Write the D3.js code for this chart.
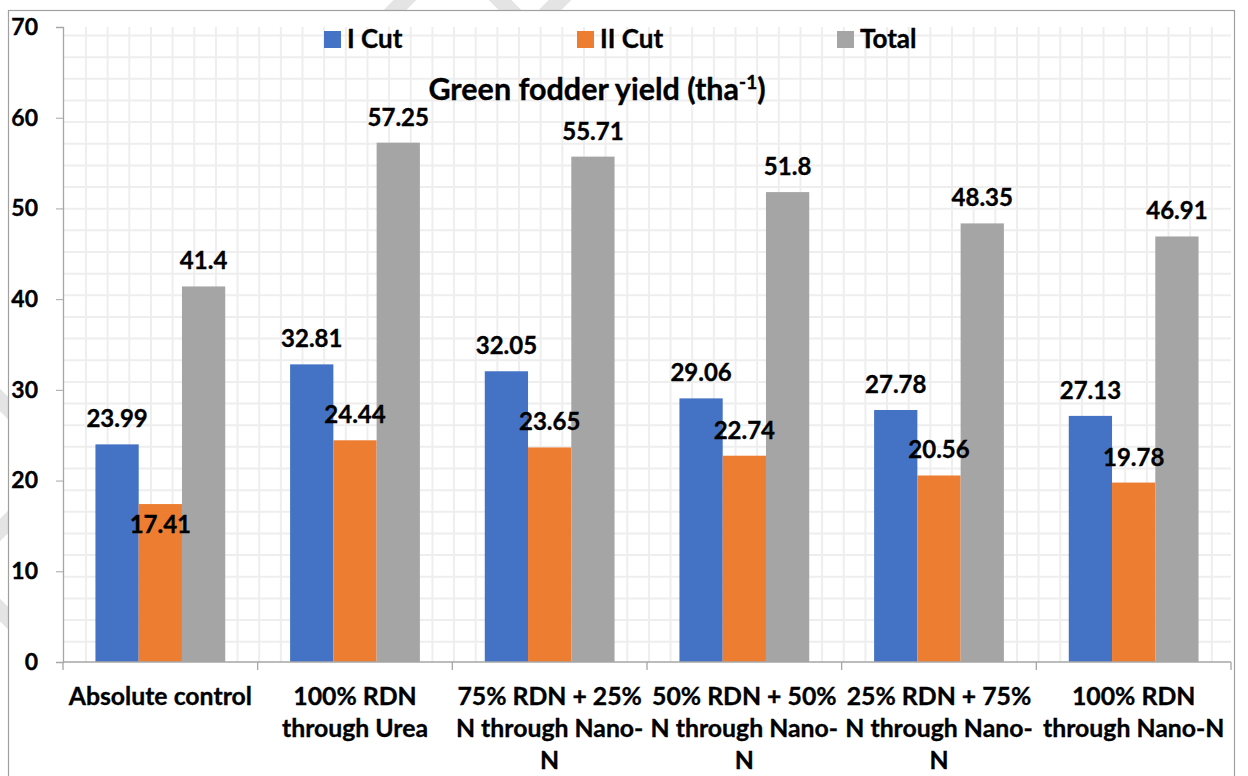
<!DOCTYPE html>
<html>
<head>
<meta charset="utf-8">
<script src="https://cdn.jsdelivr.net/npm/d3@7"></script>
<style>
  body { margin: 0; background: #fff; }
  text { font-family: Lato, "Open Sans", sans-serif; font-weight: 700; fill: #000; stroke: #000; stroke-width: 0.35px; }
</style>
</head>
<body>
<svg id="chart" width="1248" height="776"></svg>
<script>
// DATA
const categories = ["Absolute control", "100% RDN through Urea", "75% RDN + 25% N through Nano-N",
  "50% RDN + 50% N through Nano-N", "25% RDN + 75% N through Nano-N", "100% RDN through Nano-N"];
// wrapped the way the source chart wraps them
const categoryLines = [
  ["Absolute control"],
  ["100% RDN", "through Urea"],
  ["75% RDN + 25%", "N through Nano-", "N"],
  ["50% RDN + 50%", "N through Nano-", "N"],
  ["25% RDN + 75%", "N through Nano-", "N"],
  ["100% RDN", "through Nano-N"]
];
const seriesNames = ["I Cut", "II Cut", "Total"];
const cut1 = [23.99, 32.81, 32.05, 29.06, 27.78, 27.13];
const cut2 = [17.41, 24.44, 23.65, 22.74, 20.56, 19.78];
const total = [41.4, 57.25, 55.71, 51.8, 48.35, 46.91];
const yTicks = [0, 10, 20, 30, 40, 50, 60, 70];

const colors = ["#4472C4", "#ED7D31", "#A5A5A5"];
const series = [cut1, cut2, total];

// layout
const W = 1248, H = 776;
const plot = { left: 63, right: 1231, top: 27, bottom: 662 };

const svg = d3.select("#chart");

// faint watermark strokes peeking out around the chart frame
const wm = svg.append("g").attr("stroke", "#e4e4e4").attr("stroke-width", 16).attr("fill", "none");
[[[380, 25], [425, -20]], [[485, -15], [520, 20]], [[575, -15], [545, 15]],
 [[-15, 385], [25, 425]], [[25, 505], [-15, 545]], [[-10, 600], [20, 630]]]
  .forEach(s => wm.append("line").attr("x1", s[0][0]).attr("y1", s[0][1]).attr("x2", s[1][0]).attr("y2", s[1][1]));

// chart frame
svg.append("rect")
  .attr("x", 8.5).attr("y", 10.5)
  .attr("width", 1226).attr("height", H)
  .attr("fill", "#fff")
  .attr("stroke", "#a0a0a0")
  .attr("stroke-width", 1.2);

// scales
const y = d3.scaleLinear().domain([0, 70]).range([plot.bottom, plot.top]);
const x0 = d3.scaleBand().domain(categories).range([plot.left, plot.right]).padding(0);
const gap = x0.bandwidth() / 6;
const x1 = d3.scaleBand().domain(seriesNames).range([gap, x0.bandwidth() - gap]).padding(0);

// small-grid pattern fill of the plot area
const cell = 21.65;
const grid = svg.append("g").attr("stroke", "#eeeeee").attr("stroke-width", 2);
d3.range(plot.left + 23, plot.right, cell).forEach(v =>
  grid.append("line").attr("x1", v).attr("x2", v).attr("y1", plot.top).attr("y2", plot.bottom));
d3.range(plot.top + 8.5, plot.bottom, cell).forEach(v =>
  grid.append("line").attr("x1", plot.left).attr("x2", plot.right).attr("y1", v).attr("y2", v));

// bars
const groups = svg.append("g")
  .selectAll("g")
  .data(categories)
  .join("g")
  .attr("transform", d => `translate(${x0(d)},0)`);

groups.selectAll("rect")
  .data((d, i) => seriesNames.map((s, k) => ({ s, k, v: series[k][i], i })))
  .join("rect")
  .attr("x", d => x1(d.s))
  .attr("width", x1.bandwidth())
  .attr("y", d => y(d.v))
  .attr("height", d => y(0) - y(d.v))
  .attr("fill", d => colors[d.k]);

// y axis
const yAxis = d3.axisLeft(y).tickValues(yTicks).tickSize(7).tickPadding(18);
const gy = svg.append("g").attr("transform", `translate(${plot.left},0)`).call(yAxis);
gy.select(".domain").attr("stroke", "#a6a6a6").attr("stroke-width", 1.3);
gy.selectAll(".tick line").attr("stroke", "#a6a6a6");
gy.selectAll(".tick text")
  .attr("x", -25)
  .style("font-size", "23px")
  .style("font-family", "Lato, sans-serif")
  .style("font-weight", 700)
  .attr("fill", "#000");

// x axis baseline and category separators
svg.append("line")
  .attr("x1", plot.left).attr("x2", plot.right)
  .attr("y1", plot.bottom).attr("y2", plot.bottom)
  .attr("stroke", "#a6a6a6").attr("stroke-width", 1.3);
svg.append("g")
  .selectAll("line")
  .data(categories.concat(["end"]))
  .join("line")
  .attr("x1", (d, i) => plot.left + i * x0.bandwidth())
  .attr("x2", (d, i) => plot.left + i * x0.bandwidth())
  .attr("y1", plot.bottom).attr("y2", plot.bottom + 8)
  .attr("stroke", "#a6a6a6").attr("stroke-width", 1.3);

// category labels
const xl = svg.append("g");
categories.forEach((c, i) => {
  const t = xl.append("text")
    .attr("x", x0(c) + x0.bandwidth() / 2)
    .attr("text-anchor", "middle")
    .style("font-size", "24.8px");
  categoryLines[i].forEach((line, j) =>
    t.append("tspan").attr("x", x0(c) + x0.bandwidth() / 2).attr("y", 705 + j * 32).text(line));
});

// value labels (the II Cut label of the control was moved inside its bar)
const labelShift = { "0-1": 46 };
groups.selectAll("text.val")
  .data((d, i) => seriesNames.map((s, k) => ({ s, k, v: series[k][i], i })))
  .join("text")
  .attr("class", "val")
  .attr("text-anchor", "middle")
  .attr("x", d => x1(d.s) + x1.bandwidth() / 2)
  .attr("y", d => y(d.v) - 17 + (labelShift[d.i + "-" + d.k] || 0))
  .style("font-size", "24px")
  .text(d => String(d.v));

// title
const title = svg.append("text")
  .attr("x", 597).attr("y", 100)
  .attr("text-anchor", "middle")
  .style("font-size", "30.5px");
title.append("tspan").text("Green fodder yield (tha");
title.append("tspan").attr("dy", -11).style("font-size", "19px").text("-1");
title.append("tspan").attr("dy", 11).text(")");

// legend
const legendX = [324, 577, 837];
const lg = svg.append("g")
  .selectAll("g")
  .data(seriesNames)
  .join("g")
  .attr("transform", (d, i) => `translate(${legendX[i]},31)`);
lg.append("rect").attr("width", 17).attr("height", 17).attr("fill", (d, i) => colors[i]);
lg.append("text").attr("x", 23).attr("y", 16.5).style("font-size", "26px").text(d => d);
</script>
</body>
</html>
